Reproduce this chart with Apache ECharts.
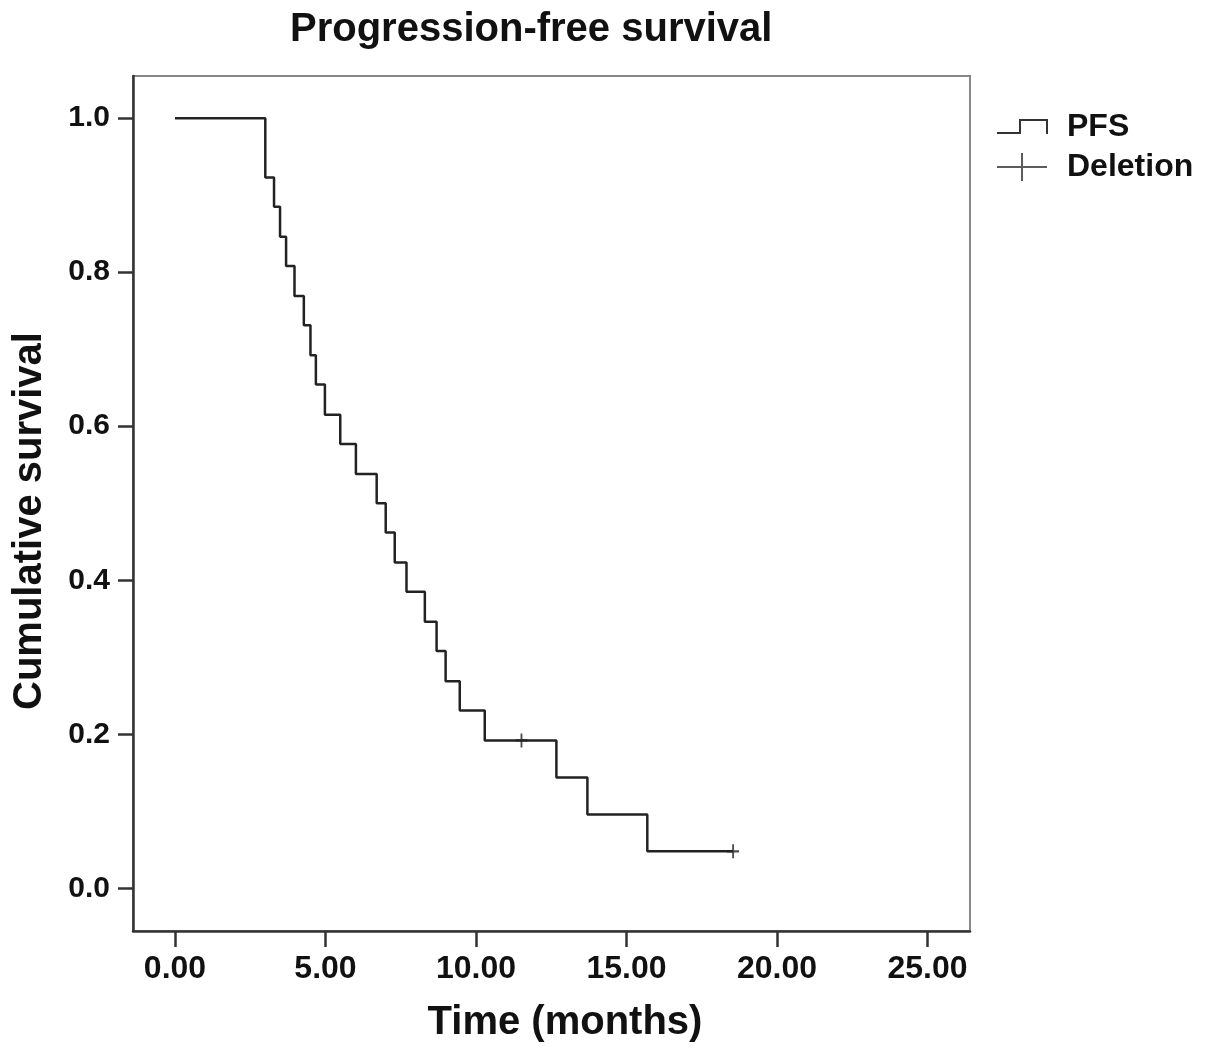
<!DOCTYPE html>
<html>
<head>
<meta charset="utf-8">
<script src="https://cdn.jsdelivr.net/npm/echarts@6/dist/echarts.min.js"></script>
<style>
html,body{margin:0;padding:0;background:#fff;}
#chart{width:1205px;height:1056px;}
</style>
</head>
<body>
<div id="chart"></div>
<script>
// Kaplan-Meier step curve (time in months, cumulative survival)
const stepTimes = [0, 3.0, 3.29, 3.49, 3.69, 3.97, 4.28, 4.5, 4.68, 4.98, 5.49, 6.01, 6.7, 7.0, 7.3, 7.69, 8.3, 8.69, 8.99, 9.46, 10.29, 12.67, 13.7, 15.69, 18.54];
const survival  = [1.0, 0.923, 0.885, 0.846, 0.808, 0.769, 0.731, 0.692, 0.654, 0.615, 0.577, 0.538, 0.5, 0.462, 0.423, 0.385, 0.346, 0.308, 0.269, 0.231, 0.192, 0.144, 0.096, 0.048, 0.048];
// Censored observations ("Deletion")
const censorTimes = [11.51, 18.54];
const censorSurvival = [0.192, 0.048];
// Tick labels
const xTicks = [0, 5, 10, 15, 20, 25];
const yTicks = [0, 0.2, 0.4, 0.6, 0.8, 1.0];

const FONT = 'Liberation Sans, Arial, sans-serif';
const INK = '#111';

const chart = echarts.init(document.getElementById('chart'));
chart.setOption({
  backgroundColor: '#fff',
  animation: false,
  title: {
    text: 'Progression-free survival',
    left: 285, top: 5,
    textStyle: { fontFamily: FONT, fontSize: 40, fontWeight: 'bold', color: INK }
  },
  legend: {
    orient: 'vertical',
    left: 991, top: 106,
    itemWidth: 50, itemHeight: 28, itemGap: 8,
    itemStyle: { color: 'transparent', borderColor: '#333', borderWidth: 2 },
    textStyle: { fontFamily: FONT, fontSize: 32, fontWeight: 'bold', color: INK, padding: [0, 0, 0, 15] },
    data: [
      { name: 'PFS', icon: 'path://M0,0 M0,20 L23,20 L23,7 L50,7 L50,21 M50,28' },
      { name: 'Deletion', icon: 'path://M0,14 L50,14 M25,0 L25,28' }
    ]
  },
  grid: {
    left: 133, right: 235, top: 76, bottom: 125,
    show: true, borderColor: '#888', borderWidth: 2, backgroundColor: '#fff'
  },
  xAxis: {
    type: 'value', min: -1.395, max: 26.41,
    name: 'Time (months)', nameLocation: 'middle', nameGap: 72,
    nameTextStyle: { fontFamily: FONT, fontSize: 40, fontWeight: 'bold', color: INK, padding: [0, 0, 0, 27] },
    axisLine: { show: true, onZero: false, lineStyle: { color: '#333', width: 2.5 } },
    axisTick: { show: true, customValues: xTicks, length: 16, lineStyle: { color: '#333', width: 2.5 } },
    axisLabel: { customValues: xTicks, margin: 22, fontFamily: FONT, fontSize: 32, fontWeight: 'bold', color: INK,
      formatter: v => v.toFixed(2) },
    splitLine: { show: false }
  },
  yAxis: {
    type: 'value', min: -0.0554, max: 1.0547,
    name: 'Cumulative survival', nameLocation: 'middle', nameGap: 83,
    nameTextStyle: { fontFamily: FONT, fontSize: 40, fontWeight: 'bold', color: INK, padding: [0, 35, 0, 0] },
    axisLine: { show: true, onZero: false, lineStyle: { color: '#333', width: 2.5 } },
    axisTick: { show: true, customValues: yTicks, length: 15, lineStyle: { color: '#333', width: 2.5 } },
    axisLabel: { customValues: yTicks, margin: 23, fontFamily: FONT, fontSize: 30, fontWeight: 'bold', color: INK,
      formatter: v => v.toFixed(1) },
    splitLine: { show: false }
  },
  series: [
    {
      name: 'PFS', type: 'line', step: 'end', symbol: 'none',
      lineStyle: { color: '#222', width: 2.5 },
      itemStyle: { color: '#222' },
      data: stepTimes.map((t, i) => [t, survival[i]]),
      z: 3
    },
    {
      name: 'Deletion', type: 'scatter',
      symbol: 'path://M0,7 L12,7 M6,0 L6,14', symbolSize: [12, 14],
      itemStyle: { color: 'transparent', borderColor: '#222', borderWidth: 2 },
      data: censorTimes.map((t, i) => [t, censorSurvival[i]]),
      z: 4
    }
  ]
});
</script>
</body>
</html>
